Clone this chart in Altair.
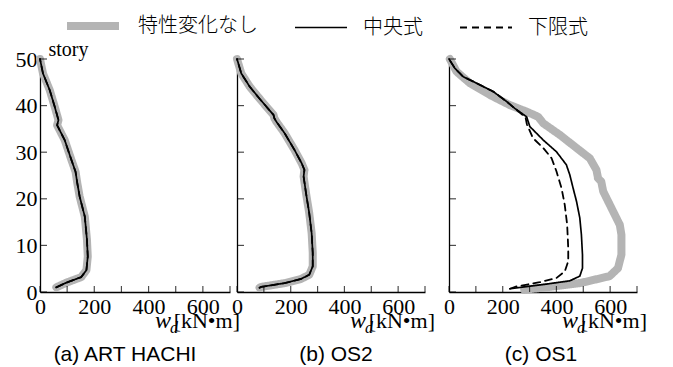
import altair as alt
import pandas as pd

SERIES = ["特性変化なし", "中央式", "下限式"]
COLORS = ["#b4b4b4", "#000000", "#000000"]
DASHES = [[1, 0], [1, 0], [7, 5]]
WIDTHS = [8, 1.7, 1.8]

X_TICKS = [0, 100, 200, 300, 400, 500, 600, 700]
X_LABELS = [0, 200, 400, 600]
Y_TICKS = [0, 10, 20, 30, 40, 50]

PANEL_TITLES = ["(a) ART HACHI", "(b) OS2", "(c) OS1"]
UNIT = "[kN•m]"

# (a) ART HACHI  (all three curves coincide)
a_story = [1.0, 2.0, 3.2, 4.7, 7.6, 11.2, 16.2, 20.5, 23.5, 25.8, 28.3, 32.6, 35.8, 36.9, 39.8, 43.3, 46.9, 50.0]
a_w = [60, 97, 152, 171, 176, 173, 165, 146, 137, 131, 116, 91, 63, 68, 54, 36, 11, 0]

# (b) OS2  (all three curves coincide)
b_story = [0.9, 1.1, 1.9, 2.8, 3.7, 5.5, 8.4, 12.6, 16.9, 21.2, 24.8, 26.2, 27.6, 30.5, 34.1, 36.6, 37.3, 38.0, 39.8, 41.9, 44.1, 46.9, 50.0]
b_w = [84, 90, 177, 238, 269, 282, 282, 278, 269, 257, 248, 251, 241, 214, 177, 146, 139, 136, 109, 78, 47, 16, 0]

# (c) OS1
c_gray_story = [0.5, 1.0, 1.9, 3.4, 5.1, 8.0, 12.3, 14.4, 18.0, 21.6, 23.7, 24.4, 26.2, 28.7, 30.9, 33.7, 36.2, 37.6, 38.7, 40.1, 42.3, 44.8, 47.3, 50.0]
c_gray_w = [280, 363, 487, 598, 629, 642, 642, 636, 605, 574, 567, 555, 549, 524, 475, 413, 351, 332, 289, 227, 152, 78, 28, 3]
c_mid_story = [0.7, 1.7, 2.4, 3.4, 5.1, 8.0, 12.3, 15.9, 19.4, 22.3, 25.1, 27.3, 30.1, 32.6, 35.5, 37.6, 39.4, 40.9, 43.0, 44.8, 46.2, 48.0, 50.0]
c_mid_w = [227, 363, 450, 487, 497, 497, 493, 487, 475, 462, 450, 437, 400, 351, 301, 289, 245, 214, 165, 103, 53, 22, 0]
c_low_story = [0.7, 1.2, 2.1, 3.0, 4.4, 6.6, 9.4, 14.4, 18.7, 22.3, 25.9, 28.7, 30.9, 33.0, 36.0, 37.5, 39.1, 40.9, 43.0, 44.8, 46.2, 48.0, 50.0]
c_low_w = [227, 252, 338, 400, 431, 444, 444, 440, 431, 419, 400, 382, 351, 313, 290, 285, 251, 214, 165, 103, 53, 22, 0]


def make_df(curves):
    rows = []
    for name, st, w in curves:
        for s, v in zip(st, w):
            rows.append({"series": name, "story": s, "w": v})
    return pd.DataFrame(rows)


SERIF = "Liberation Serif, Times New Roman, serif"
SANS = "Liberation Sans"
H = 233

LEG = alt.Legend(
    orient="none", legendX=39, legendY=-47, direction="horizontal",
    symbolType="M-2.6,0H2.6", symbolSize=400, labelFont="Noto Sans CJK JP",
    labelFontSize=20, labelFontWeight=300, labelColor="black", labelOffset=31,
    columnPadding=33, padding=0, labelLimit=400,
)


def panel(df, W, idx, show_labels, title_dx):
    xs = alt.Scale(domain=[0, 700], nice=False, zero=False)
    ys = alt.Scale(domain=[0, 50], nice=False, zero=False)
    yaxis_kw = dict(orient="left", values=Y_TICKS, ticks=False, labels=show_labels,
                    grid=False, labelPadding=3, labelFont=SERIF, labelFontSize=22)
    if show_labels:
        yaxis_kw.update(title="story", titleAngle=0, titleX=8, titleY=-4,
                        titleAlign="left", titleBaseline="alphabetic")
    else:
        yaxis_kw.update(title=None)
    x_main = alt.X("w:Q", scale=xs, axis=alt.Axis(
        orient="bottom", values=X_LABELS, ticks=False, grid=False,
        labelPadding=4, labelFont=SERIF, labelFontSize=22, title=None))
    y_main = alt.Y("story:Q", scale=ys, axis=alt.Axis(**yaxis_kw))

    enc_style = dict(
        color=alt.Color("series:N", scale=alt.Scale(domain=SERIES, range=COLORS), legend=LEG, title=None),
        strokeDash=alt.StrokeDash("series:N", scale=alt.Scale(domain=SERIES, range=DASHES), legend=LEG, title=None),
        strokeWidth=alt.StrokeWidth("series:N", scale=alt.Scale(type="ordinal", domain=SERIES, range=WIDTHS), legend=LEG, title=None),
        order=alt.Order("story:Q"),
    )
    base = alt.Chart(df)
    layers = []
    for s in SERIES:
        layers.append(
            base.transform_filter(alt.datum.series == s)
            .mark_line(strokeCap="round", strokeJoin="round")
            .encode(x=x_main, y=y_main, **enc_style)
        )
    xt = alt.Chart(pd.DataFrame({"w": X_TICKS})).mark_tick(
        color="black", size=6, thickness=1.2).encode(
        x=x_main, y=alt.value(H - 3))
    yt = alt.Chart(pd.DataFrame({"story": Y_TICKS})).mark_tick(
        color="black", size=7, thickness=1.2, orient="horizontal").encode(
        y=y_main, x=alt.value(3.5))
    one = alt.Chart(pd.DataFrame({"k": [0]}))
    t_w = one.mark_text(text="w", font=SERIF, fontSize=24, fontStyle="italic",
                        align="right", baseline="alphabetic", color="black").encode(
        x=alt.value(W - 59), y=alt.value(269))
    t_d = one.mark_text(text="d", font=SERIF, fontSize=16, fontStyle="italic",
                        align="right", baseline="alphabetic", color="black").encode(
        x=alt.value(W - 52), y=alt.value(274))
    t_u = one.mark_text(text=UNIT, font=SERIF, fontSize=22,
                        align="right", baseline="alphabetic", color="black").encode(
        x=alt.value(W + 10), y=alt.value(269))
    t_t = one.mark_text(text=PANEL_TITLES[idx], font=SANS, fontSize=21,
                        align="center", baseline="alphabetic", color="black").encode(
        x=alt.value(W / 2 + title_dx), y=alt.value(302))
    return alt.layer(*layers, xt, yt, t_w, t_d, t_u, t_t).properties(width=W, height=H)


df_a = make_df([(s, a_story, a_w) for s in SERIES])
df_b = make_df([(s, b_story, b_w) for s in SERIES])
df_c = make_df([(SERIES[0], c_gray_story, c_gray_w),
                (SERIES[1], c_mid_story, c_mid_w),
                (SERIES[2], c_low_story, c_low_w)])

pa = panel(df_a, 190, 0, True, -10)
pb = panel(df_b, 188, 1, False, 5)
pc = panel(df_c, 188, 2, False, -2)
spacer = alt.Chart(pd.DataFrame({"k": [0]})).mark_point(opacity=0).encode(
    x=alt.value(0), y=alt.value(0)).properties(width=10, height=H)

chart = alt.hconcat(pa, pb, spacer, pc, spacing=7, bounds="flush").properties(
    padding={"left": 15, "top": 12, "right": 5, "bottom": 2},
    background="white",
).configure_view(stroke=None).configure_axis(
    labelFont=SERIF, labelFontSize=22, labelColor="black",
    labelFlush=False, labelOverlap=False,
    domainColor="black", domainWidth=1.3,
    titleFont=SERIF, titleFontSize=20, titleFontWeight="normal", titleColor="black",
)

chart.save("out.html", embed_options={"renderer": "svg", "actions": False})
